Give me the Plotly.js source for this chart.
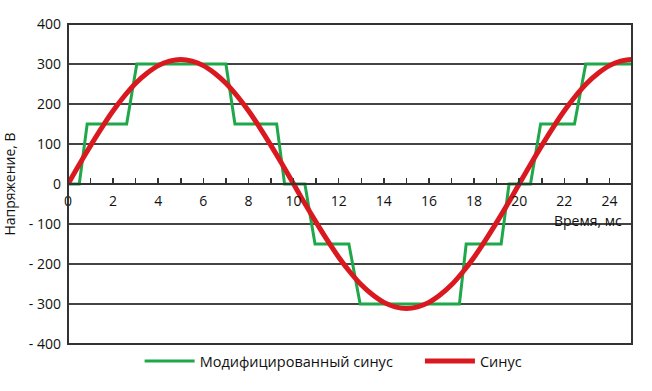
<!DOCTYPE html>
<html>
<head>
<meta charset="utf-8">
<script src="https://cdn.plot.ly/plotly-3.0.1.min.js"></script>
<style>html,body{margin:0;padding:0;background:#fff;}#chart{width:652px;height:391px;}</style>
</head>
<body>
<div id="chart"></div>
<script>
// Modified sine (stepped) – time (ms) and voltage (V)
var stepTime = [0, 0.5, 0.85, 2.6, 3.05, 7.0, 7.4, 9.25, 9.6, 10.5, 10.95, 12.45, 12.95, 17.35, 17.65, 19.2, 19.55, 20.5, 20.95, 22.45, 22.95, 25];
var stepVolt = [0, 0, 150, 150, 300, 300, 150, 150, 0, 0, -150, -150, -300, -300, -150, -150, 0, 0, 150, 150, 300, 300];

// Pure sine – time (ms) and voltage (V), read every 0.5 ms
var sineTime = [0,0.5,1,1.5,2,2.5,3,3.5,4,4.5,5,5.5,6,6.5,7,7.5,8,8.5,9,9.5,10,10.5,11,11.5,12,12.5,13,13.5,14,14.5,15,15.5,16,16.5,17,17.5,18,18.5,19,19.5,20,20.5,21,21.5,22,22.5,23,23.5,24,24.5,25];
var sineVolt = [0,49,96,141,183,220,252,277,296,307,311,307,296,277,252,220,183,141,96,49,0,-49,-96,-141,-183,-220,-252,-277,-296,-307,-311,-307,-296,-277,-252,-220,-183,-141,-96,-49,0,49,96,141,183,220,252,277,296,307,311];

var yTickVals = [400, 300, 200, 100, 0, -100, -200, -300, -400];
var yTickText = ['400', '300', '200', '100', '0', '- 100', '- 200', '- 300', '- 400'];
var xTickVals = [0, 2, 4, 6, 8, 10, 12, 14, 16, 18, 20, 22, 24];

var seriesNames = ['Модифицированный синус', 'Синус'];

var FONT = 'Open Sans, Liberation Sans, sans-serif';

var traces = [
  {x: stepTime, y: stepVolt, mode: 'lines', name: seriesNames[0], legend: 'legend',
   line: {color: '#1ea84a', width: 3}},
  {x: sineTime, y: sineVolt, mode: 'lines', name: seriesNames[1], legend: 'legend2',
   line: {color: '#d9191f', width: 5, shape: 'spline'}}
];

var legendFont = {family: FONT, size: 14.5, color: '#111'};

var layout = {
  width: 652, height: 391,
  margin: {l: 68, r: 20, t: 24, b: 47},
  paper_bgcolor: '#fff', plot_bgcolor: '#fff',
  font: {family: FONT, size: 13, color: '#111'},
  showlegend: true,
  legend: {orientation: 'h', x: 0.127, xanchor: 'left', y: -0.003, yanchor: 'top',
           bgcolor: 'rgba(0,0,0,0)', font: legendFont, itemwidth: 50},
  legend2: {orientation: 'h', x: 0.624, xanchor: 'left', y: -0.003, yanchor: 'top',
           bgcolor: 'rgba(0,0,0,0)', font: legendFont, itemwidth: 50},
  xaxis: {range: [0, 25], anchor: 'free', position: 0.5, fixedrange: true,
          tickvals: xTickVals, ticks: 'inside', ticklen: 5, tickwidth: 1.5, tickcolor: '#333',
          minor: {dtick: 1, ticks: 'inside', ticklen: 5, tickwidth: 1.5, tickcolor: '#333'},
          showgrid: false, zeroline: false, showline: true, linecolor: '#333', linewidth: 2,
          tickfont: {family: FONT, size: 14, color: '#111'}, ticklabelstandoff: 4},
  yaxis: {range: [-400, 400], tickvals: yTickVals, ticktext: yTickText, fixedrange: true,
          showgrid: true, gridcolor: '#444', gridwidth: 1.5, zeroline: false,
          showline: false, ticks: '', ticklabelstandoff: 6,
          tickfont: {family: FONT, size: 14, color: '#111'},
          title: {text: 'Напряжение, В', font: {family: FONT, size: 14, color: '#111'}, standoff: 10}},
  shapes: [{type: 'rect', xref: 'paper', yref: 'paper', x0: 0, x1: 1, y0: 0, y1: 1,
            line: {color: '#333', width: 2}, layer: 'above'}],
  annotations: [{text: 'Время, мс', xref: 'paper', yref: 'paper', x: 0.985, y: 0.385,
                 xanchor: 'right', yanchor: 'middle', showarrow: false,
                 font: {family: FONT, size: 14, color: '#111'}}]
};

Plotly.newPlot('chart', traces, layout, {displayModeBar: false, staticPlot: true});
</script>
</body>
</html>
